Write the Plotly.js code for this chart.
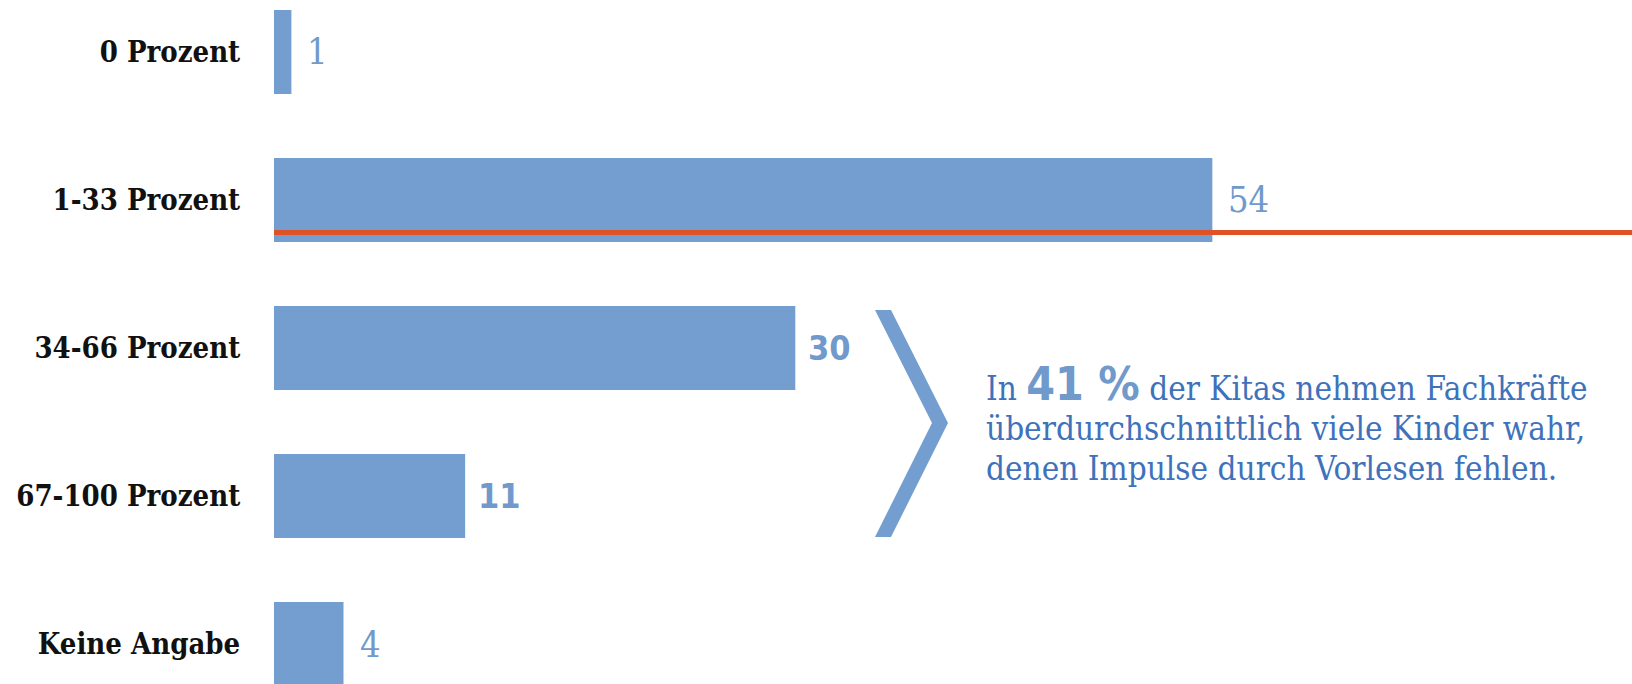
<!DOCTYPE html>
<html>
<head>
<meta charset="utf-8">
<script src="https://cdn.plot.ly/plotly-3.0.1.min.js"></script>
<style>
html,body{margin:0;padding:0;background:#fff;}
#chart{width:1632px;height:684px;}
</style>
</head>
<body>
<div id="chart"></div>
<script>
// ---- data ----
const categories = ["0 Prozent", "1-33 Prozent", "34-66 Prozent", "67-100 Prozent", "Keine Angabe"];
const values = [1, 54, 30, 11, 4];
const valueLabels = ["1", "54", "30", "11", "4"];
const boldLabel = [false, false, true, true, false];
const noteLine1 = ["In", "41 %", "der Kitas nehmen Fachkräfte"];
const noteLine2 = "überdurchschnittlich viele Kinder wahr,";
const noteLine3 = "denen Impulse durch Vorlesen fehlen.";

// ---- styles ----
const W = 1632, H = 684, L = 274;
const barColor = "rgb(116,158,207)";
const textBlue = "rgb(62,114,187)";
const numBlue = "rgb(112,153,204)";
const slab = "'DejaVu Serif Condensed', 'DejaVu Serif', serif";
const narrow = "'DejaVu Sans Condensed', 'DejaVu Sans', sans-serif";
const px = x => (x - L) / (W - L);
const py = y => 1 - y / H;

const trace = {
  type: "bar",
  orientation: "h",
  y: categories,
  x: values,
  width: 0.568,
  marker: {color: barColor},
  hoverinfo: "none"
};

const annotations = values.map((v, i) => ({
  x: v, y: categories[i], xref: "x", yref: "y",
  text: valueLabels[i], showarrow: false,
  xanchor: "left", yanchor: "middle", xshift: boldLabel[i] ? 11 : 14,
  font: boldLabel[i]
    ? {family: narrow, size: 34, color: numBlue, weight: 700}
    : {family: slab, size: 36, color: numBlue, weight: 300}
}));

annotations.push({
  x: px(984), y: py(384), xref: "paper", yref: "paper",
  xanchor: "left", yanchor: "middle", showarrow: false, align: "left",
  text: noteLine1[0] + " <span style='font-family:DejaVu Sans Condensed;font-weight:bold;font-size:46px;color:" + numBlue + "'>" + noteLine1[1] + "</span> " + noteLine1[2],
  font: {family: slab, size: 33, color: textBlue}
});
annotations.push({
  x: px(984), y: py(429), xref: "paper", yref: "paper",
  xanchor: "left", yanchor: "middle", showarrow: false,
  text: noteLine2, font: {family: slab, size: 33, color: textBlue}
});
annotations.push({
  x: px(984), y: py(469), xref: "paper", yref: "paper",
  xanchor: "left", yanchor: "middle", showarrow: false,
  text: noteLine3, font: {family: slab, size: 33, color: textBlue}
});

const chevron = [[875,310],[891,310],[948,423],[891,537],[875,537],[932,423]];
const chevPath = "M " + chevron.map(p => px(p[0]) + "," + py(p[1])).join(" L ") + " Z";

const layout = {
  width: W, height: H,
  margin: {l: L, r: 0, t: 0, b: 0, pad: 0},
  paper_bgcolor: "#fff", plot_bgcolor: "#fff",
  showlegend: false,
  xaxis: {range: [0, 78.15], visible: false, fixedrange: true},
  yaxis: {
    type: "category",
    range: [4.270, -0.351],
    showgrid: false, zeroline: false, showline: false,
    ticks: "outside", ticklen: 27, tickcolor: "rgba(0,0,0,0)",
    tickfont: {family: slab, size: 29, color: "#111", weight: 700},
    fixedrange: true
  },
  shapes: [
    {type: "line", xref: "paper", yref: "y", x0: 0, x1: 1, y0: 1.22, y1: 1.22,
     line: {color: "rgb(221,82,38)", width: 5}, layer: "above"},
    {type: "path", xref: "paper", yref: "paper", path: chevPath,
     fillcolor: barColor, line: {width: 0}}
  ],
  annotations: annotations
};

Plotly.newPlot("chart", [trace], layout, {displayModeBar: false, staticPlot: true});
</script>
</body>
</html>
